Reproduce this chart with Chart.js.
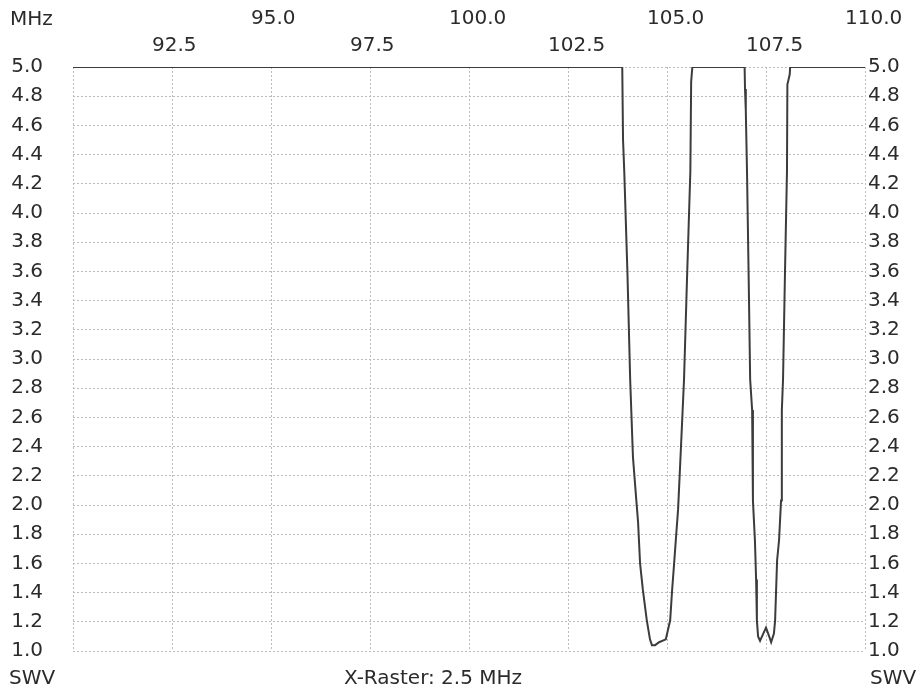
<!DOCTYPE html>
<html>
<head>
<meta charset="utf-8">
<script src="https://cdn.jsdelivr.net/npm/chart.js@4/dist/chart.umd.min.js"></script>
<style>
  body { margin: 0; background: #fff; }
  #wrap { width: 924px; height: 692px; position: relative; }
</style>
</head>
<body>
<div id="wrap"><canvas id="swr"></canvas></div>
<script>
// sweep readings, MHz vs SWV
const freqs = [90, 103.87, 103.89, 103.92, 104.0, 104.07, 104.14, 104.22, 104.27, 104.32, 104.39, 104.49, 104.57, 104.62, 104.7, 104.8, 104.97,
  105.08, 105.13, 105.18, 105.22, 105.28, 105.35, 105.43, 105.5, 105.59, 105.61, 105.64,
  106.96, 106.97, 106.99, 107.02, 107.06, 107.1, 107.15, 107.17, 107.22, 107.25, 107.27, 107.3, 107.35, 107.4, 107.5, 107.58, 107.63, 107.7,
  107.73, 107.78, 107.83, 107.88, 107.9, 107.93, 107.98, 108.03, 108.04, 108.1, 108.11, 110];
const swr = [5.0, 5.0, 4.5, 4.29, 3.6, 2.86, 2.33, 2.05, 1.88, 1.6, 1.42, 1.21, 1.08, 1.04, 1.04, 1.06, 1.08,
  1.21, 1.42, 1.6, 1.75, 1.97, 2.38, 2.86, 3.5, 4.29, 4.9, 5.0,
  5.0, 4.85, 4.7, 4.29, 3.6, 2.86, 2.65, 2.03, 1.76, 1.49, 1.21, 1.1, 1.07, 1.1, 1.16, 1.1, 1.06, 1.12,
  1.21, 1.62, 1.76, 2.03, 2.65, 2.86, 3.6, 4.29, 4.88, 4.95, 5.0, 5.0];

const xMin = 90, xMax = 110, xStep = 2.5;
const yMin = 1.0, yMax = 5.0, yStep = 0.2;
const xLabel = 'X-Raster: 2.5 MHz';

const font = { family: 'DejaVu Sans', size: 20 };
const txt = '#2b2b2b';
const gridCol = '#bcbcbc';

const pts = freqs.map((f, i) => ({ x: f, y: swr[i] }));

// fixed box sizes so the plot area sits where the original one does
const fixW = w => s => { s.width = w; s.paddingTop = 0; s.paddingBottom = 0; };
const fixH = h => s => { s.height = h; s.paddingLeft = 0; s.paddingRight = 0; };

const extraText = {
  id: 'extraText',
  afterDraw(chart) {
    const c = chart.ctx;
    c.save();
    c.font = '20px "DejaVu Sans"';
    c.fillStyle = txt;
    c.textBaseline = 'middle';
    c.textAlign = 'left';
    c.fillText('MHz', 10, 20);
    c.fillText('SWV', 9, 679);
    c.fillText('SWV', 870, 679);
    c.textAlign = 'center';
    c.fillText(xLabel, 433, 679);
    c.restore();
  }
};

new Chart(document.getElementById('swr'), {
  type: 'line',
  data: {
    datasets: [{
      data: pts,
      borderColor: '#3c3c3c',
      borderWidth: 2,
      pointRadius: 0,
      tension: 0,
      fill: false
    }]
  },
  options: {
    responsive: true,
    maintainAspectRatio: false,
    animation: false,
    layout: { padding: { left: 0, right: 0, top: 0, bottom: 41 } },
    plugins: { legend: { display: false }, tooltip: { enabled: false } },
    scales: {
      x: {
        type: 'linear', position: 'top', weight: 0,
        min: xMin, max: xMax,
        afterFit: fixH(30),
        afterBuildTicks: s => {
          s.ticks = [];
          for (let v = xMin; v <= xMax + 1e-6; v += xStep) s.ticks.push({ value: v });
        },
        ticks: {
          autoSkip: false, maxRotation: 0, align: 'start', labelOffset: -20, padding: 9,
          color: txt, font,
          callback: v => (Math.round(v * 10) % 50 === 0 ? '' : v.toFixed(1))
        },
        grid: { color: gridCol, drawTicks: false },
        border: { display: false, dash: [2, 2] }
      },
      xTop: {
        type: 'linear', position: 'top', weight: 1,
        min: xMin, max: xMax,
        afterFit: fixH(37),
        afterBuildTicks: s => {
          s.ticks = [];
          for (let v = xMin + 5; v <= xMax + 1e-6; v += 5) s.ticks.push({ value: v });
        },
        ticks: {
          autoSkip: false, maxRotation: 0, align: 'start', labelOffset: -20, padding: 6,
          color: txt, font,
          callback: v => v.toFixed(1)
        },
        grid: { display: false, drawTicks: false },
        border: { display: false }
      },
      y: {
        position: 'left',
        min: yMin, max: yMax,
        afterFit: fixW(73),
        afterBuildTicks: s => {
          s.ticks = [];
          for (let v = yMin; v <= yMax + 1e-6; v += yStep) s.ticks.push({ value: Math.round(v * 10) / 10 });
        },
        ticks: { autoSkip: false, padding: 30, color: txt, font, callback: v => v.toFixed(1) },
        grid: { color: gridCol, drawTicks: false },
        border: { display: false, dash: [2, 2] }
      },
      y2: {
        position: 'right',
        min: yMin, max: yMax,
        afterFit: fixW(59),
        afterBuildTicks: s => {
          s.ticks = [];
          for (let v = yMin; v <= yMax + 1e-6; v += yStep) s.ticks.push({ value: Math.round(v * 10) / 10 });
        },
        ticks: { autoSkip: false, padding: 3, color: txt, font, callback: v => v.toFixed(1) },
        grid: { display: false, drawTicks: false },
        border: { display: false }
      }
    }
  },
  plugins: [extraText]
});
</script>
</body>
</html>
